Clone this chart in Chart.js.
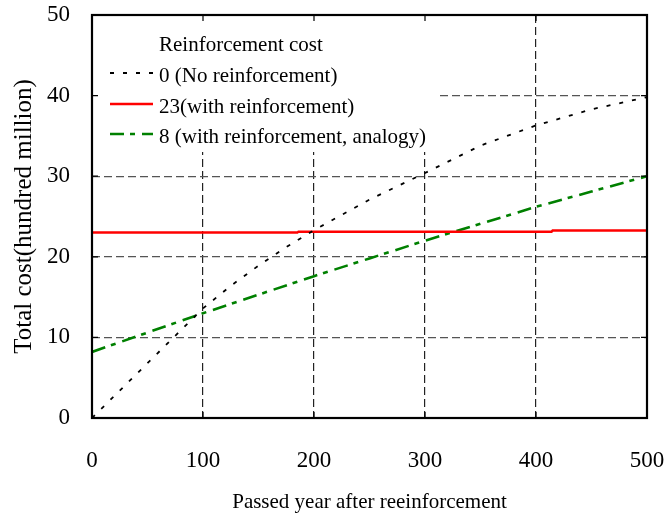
<!DOCTYPE html>
<html>
<head>
<meta charset="utf-8">
<script src="https://cdn.jsdelivr.net/npm/chart.js@4.4.1/dist/chart.umd.min.js"></script>
<style>
  html, body { margin:0; padding:0; background:#fff; }
  #wrap { width:664px; height:517px; }
</style>
</head>
<body>
<div id="wrap"><canvas id="c" width="664" height="517"></canvas></div>
<script>
// values
let noReinfYears = [0, 25, 50, 75, 100, 125, 150, 175, 200, 250, 300, 350, 400, 450, 500];
let noReinfCost  = [0, 3.4, 6.8, 10.2, 13.6, 16.4, 18.9, 21.2, 23.3, 27.1, 30.4, 33.8, 36.3, 38.3, 39.8];
let reinfYears   = [0, 185, 186, 414, 415, 500];
let reinfCost    = [23, 23, 23.12, 23.12, 23.25, 23.25];
let analogyYears = [0, 50, 100, 150, 200, 250, 300, 350, 400, 450, 500];
let analogyCost  = [8.2, 10.6, 13.0, 15.3, 17.6, 19.8, 22.0, 24.1, 26.2, 28.1, 30.0];
let seriesNames  = ['0 (No reinforcement)', '23(with reinforcement)', '8 (with reinforcement, analogy)'];
let legendTitle  = 'Reinforcement cost';
let xTitle = 'Passed year after reeinforcement';
let yTitle = 'Total cost(hundred million)';

function pts(xs, ys) { return xs.map((x, i) => ({x: x, y: ys[i]})); }

Chart.defaults.font.family = "'Liberation Serif', 'Times New Roman', serif";
Chart.defaults.color = '#000';

let datasets = [
  {label: seriesNames[0], data: pts(noReinfYears, noReinfCost), borderColor: '#000', borderWidth: 1.8, borderDash: [4, 9]},
  {label: seriesNames[1], data: pts(reinfYears, reinfCost), borderColor: '#ff0000', borderWidth: 2.5},
  {label: seriesNames[2], data: pts(analogyYears, analogyCost), borderColor: '#008000', borderWidth: 2.6, borderDash: [14, 6, 5, 7]}
];
datasets.forEach(d => { d.showLine = true; d.pointRadius = 0; d.tension = 0; d.fill = false; });

// legend box inside the plot, drawn over the grid
let boxLegend = {
  id: 'boxLegend',
  beforeDatasetsDraw(chart) {
    let ctx = chart.ctx, a = chart.chartArea;
    ctx.save();
    ctx.fillStyle = '#fff';
    ctx.fillRect(a.left, a.top, 436 - a.left, 152 - a.top);
    ctx.font = "21px 'Liberation Serif'";
    ctx.fillStyle = '#000';
    ctx.textBaseline = 'middle';
    ctx.textAlign = 'left';
    ctx.fillText(legendTitle, 159, 45);
    let rowY = [76, 107, 137];
    chart.data.datasets.forEach((d, i) => {
      ctx.save();
      ctx.strokeStyle = d.borderColor;
      ctx.lineWidth = d.borderWidth;
      ctx.setLineDash(d.borderDash || []);
      ctx.beginPath();
      ctx.moveTo(110, rowY[i] - 3);
      ctx.lineTo(153, rowY[i] - 3);
      ctx.stroke();
      ctx.restore();
      ctx.fillText(d.label, 159, rowY[i]);
    });
    ctx.restore();
  },
  afterDraw(chart) {
    let ctx = chart.ctx, a = chart.chartArea;
    let xs = chart.scales.x, ys = chart.scales.y;
    ctx.save();
    ctx.strokeStyle = '#000';
    ctx.lineWidth = 1.2;
    ctx.beginPath();
    xs.ticks.forEach(t => {
      let px = xs.getPixelForValue(t.value);
      ctx.moveTo(px, a.top); ctx.lineTo(px, a.top + 6);
      ctx.moveTo(px, a.bottom); ctx.lineTo(px, a.bottom - 6);
    });
    ys.ticks.forEach(t => {
      let py = ys.getPixelForValue(t.value);
      ctx.moveTo(a.left, py); ctx.lineTo(a.left + 6, py);
      ctx.moveTo(a.right, py); ctx.lineTo(a.right - 6, py);
    });
    ctx.stroke();
    ctx.lineWidth = 2.2;
    ctx.strokeRect(a.left, a.top, a.right - a.left, a.bottom - a.top);
    ctx.restore();
  }
};

new Chart(document.getElementById('c'), {
  type: 'scatter',
  data: {datasets},
  plugins: [boxLegend],
  options: {
    responsive: false,
    animation: false,
    layout: {padding: {top: 15, right: 17, bottom: 0, left: 0}},
    plugins: {legend: {display: false}, tooltip: {enabled: false}},
    scales: {
      x: {
        type: 'linear', min: 0, max: 500,
        ticks: {stepSize: 100, padding: 29, font: {size: 23}, maxRotation: 0},
        grid: {color: '#222', lineWidth: 1.2, drawTicks: false},
        border: {display: false, dash: [8, 4]},
        title: {display: true, text: xTitle, font: {size: 21}, padding: {top: 0, bottom: 2}},
        afterFit: s => { s.height = 99; s.paddingLeft = 0; s.paddingRight = 0; }
      },
      y: {
        type: 'linear', min: 0, max: 50,
        ticks: {stepSize: 10, padding: 22, font: {size: 23}},
        grid: {color: '#555', lineWidth: 1.3, drawTicks: false},
        border: {display: false, dash: [8, 4]},
        title: {display: true, text: yTitle, font: {size: 25}, padding: {top: 9, bottom: 0}},
        afterFit: s => { s.width = 92; s.paddingTop = 0; s.paddingBottom = 0; }
      }
    }
  }
});
</script>
</body>
</html>
